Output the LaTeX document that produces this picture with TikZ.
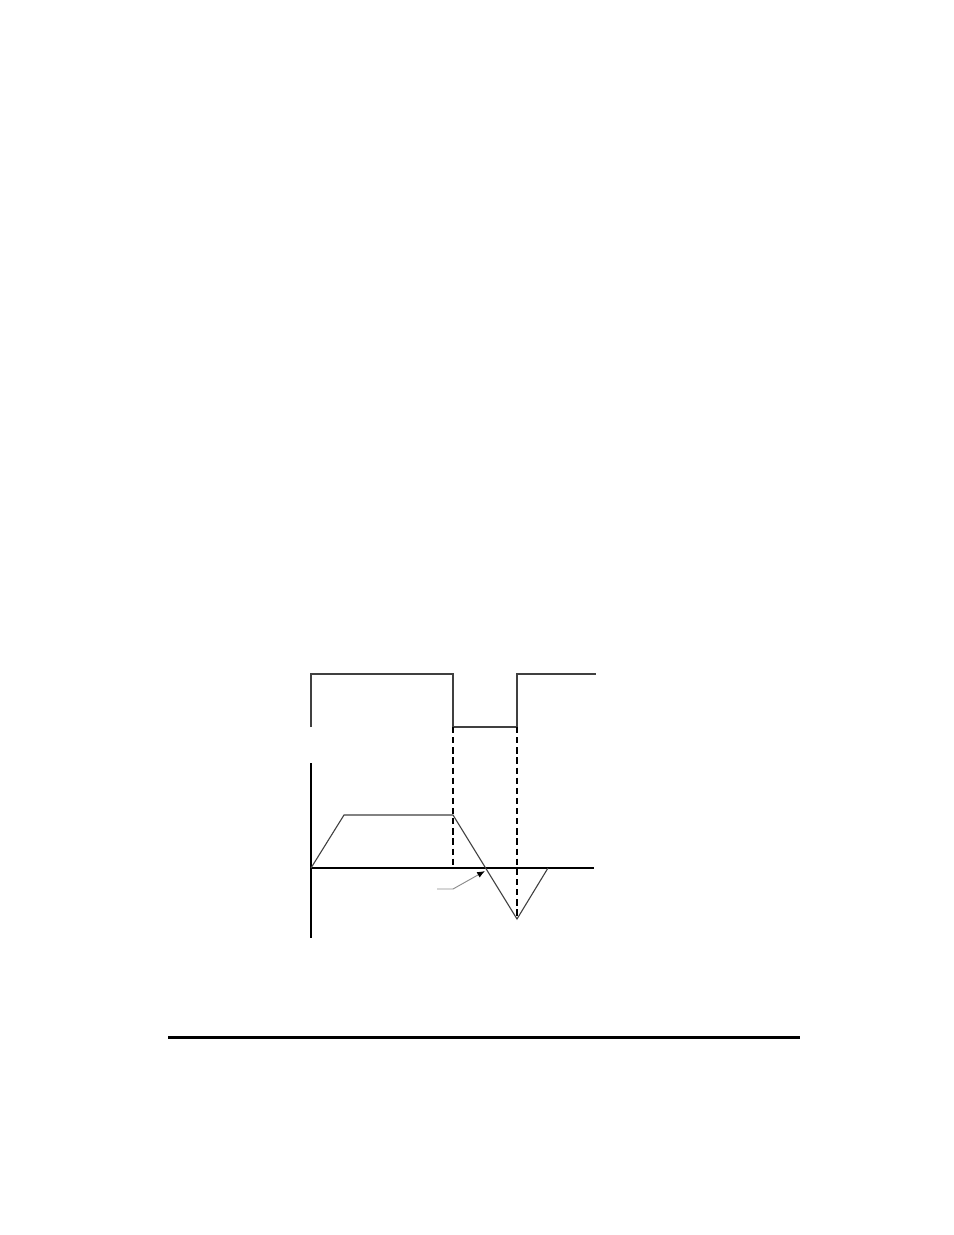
\documentclass[tikz,border=0pt]{standalone}
\usepackage{tikz}
\usetikzlibrary{arrows.meta}

\tikzset{
  wave/.style={line width=0.7pt, black!75},
  axis/.style={line width=0.7pt, black},
  guide/.style={line width=0.7pt, black, dash pattern=on 4pt off 2.5pt},
  pointer/.style={line width=0.6pt, black!45, -{Latex[black,length=5pt,width=4pt]}},
  rule/.style={line width=1.4pt, black}
}

\begin{document}
\begin{tikzpicture}[x=0.6415pt, y=-0.6415pt]
\coordinate (PageTL) at (0,0);
\coordinate (PageBR) at (954,1235);
\useasboundingbox[fill=white] (PageTL) rectangle (PageBR);

%%Gate signal
\coordinate (g0) at (311,727);
\coordinate (g1) at (311,674);
\coordinate (g2) at (453,674);
\coordinate (g3) at (453,727);
\coordinate (g4) at (517,727);
\coordinate (g5) at (517,674);
\coordinate (g6) at (596,674);
\draw[wave] (g0) -- (g1) -- (g2) -- (g3) -- (g4) -- (g5) -- (g6);

%%Axes
\coordinate (Origin) at (311,868);
\coordinate (AxisTop) at (311,763);
\coordinate (AxisBottom) at (311,938);
\coordinate (AxisEnd) at (594,868);
\draw[axis] (AxisTop) -- (AxisBottom);
\draw[axis] (Origin) -- (AxisEnd);

%%Current
\coordinate (RiseEnd) at (344,815);
\coordinate (FallStart) at (453,815);
\coordinate (Trough) at (517,919);
\coordinate (Back) at (548,868);
\draw[wave] (Origin) -- (RiseEnd) -- (FallStart) -- (Trough) -- (Back);

%%Dashed guides
\coordinate (FallFoot) at (453,868);
\draw[guide] (g3) -- (FallFoot);
\draw[guide] (g4) -- (Trough);

%%Zero crossing pointer
\coordinate (PtrStart) at (437,889);
\coordinate (PtrKnee) at (453,889);
\coordinate (PtrTip) at (485,871);
\draw[pointer] (PtrStart) -- (PtrKnee) -- (PtrTip);

%%Page rule
\coordinate (RuleL) at (168,1037.5);
\coordinate (RuleR) at (800,1037.5);
\draw[rule] (RuleL) -- (RuleR);

\end{tikzpicture}
\end{document}
